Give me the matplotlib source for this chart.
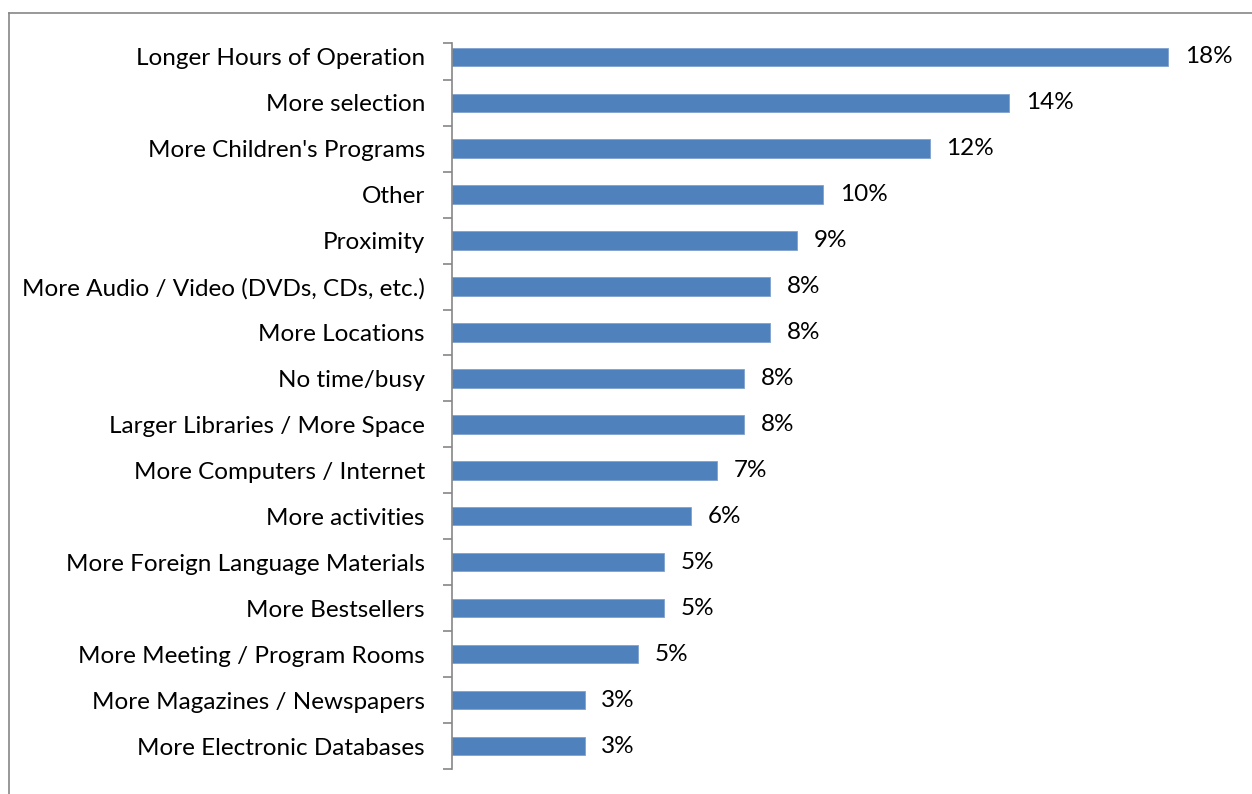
import matplotlib
matplotlib.use('Agg')

import matplotlib.pyplot as plt
from matplotlib.lines import Line2D

# Data
categories = ['Longer Hours of Operation', 'More selection', "More Children's Programs",
              'Other', 'Proximity', 'More Audio / Video (DVDs, CDs, etc.)',
              'More Locations', 'No time/busy', 'Larger Libraries / More Space',
              'More Computers / Internet', 'More activities',
              'More Foreign Language Materials', 'More Bestsellers',
              'More Meeting / Program Rooms', 'More Magazines / Newspapers',
              'More Electronic Databases']
values = [17.99, 14.0, 12.0, 9.33, 8.67, 8.0, 8.0, 7.33, 7.33, 6.67, 6.0,
          5.33, 5.33, 4.67, 3.33, 3.33]
value_labels = ['18%', '14%', '12%', '10%', '9%', '8%', '8%', '8%', '8%', '7%',
                '6%', '5%', '5%', '5%', '3%', '3%']

plt.rcParams['font.family'] = ['Lato', 'DejaVu Sans']

fig = plt.figure(figsize=(12.52, 7.94), dpi=100)
ax = fig.add_axes([452 / 1252, 25 / 794, 796 / 1252, 726 / 794])

pos = list(range(len(categories)))
ax.barh(pos, values, height=0.4, color='#4F81BD', edgecolor='#7FA2CF', linewidth=0.6)

for p, v, lab in zip(pos, values, value_labels):
    ax.text(v + 0.42, p, lab, va='center', ha='left', fontsize=17.5, color='black')

ax.set_xlim(0, 20)
ax.set_ylim(15.5, -0.3)

ax.set_yticks(pos)
ax.set_yticklabels(categories, fontsize=17.5)
ax.set_yticks([-0.3] + [i + 0.5 for i in range(16)], minor=True)
ax.tick_params(axis='y', which='major', length=0, pad=19.5)
ax.tick_params(axis='y', which='minor', length=6.5, width=1.2, color='#868686', direction='out')
ax.set_xticks([])

for s in ['top', 'right', 'bottom']:
    ax.spines[s].set_visible(False)
ax.spines['left'].set_color('#868686')
ax.spines['left'].set_linewidth(1.2)

# outer chart frame (cut off by the image edges)
x0 = 8.5 / 1252
y0 = 1 - 12.5 / 794
fig.add_artist(Line2D([x0, x0], [0, y0], color='#868686', linewidth=1.2))
fig.add_artist(Line2D([x0, 1], [y0, y0], color='#868686', linewidth=1.2))

fig.savefig('out.png', dpi=100)
